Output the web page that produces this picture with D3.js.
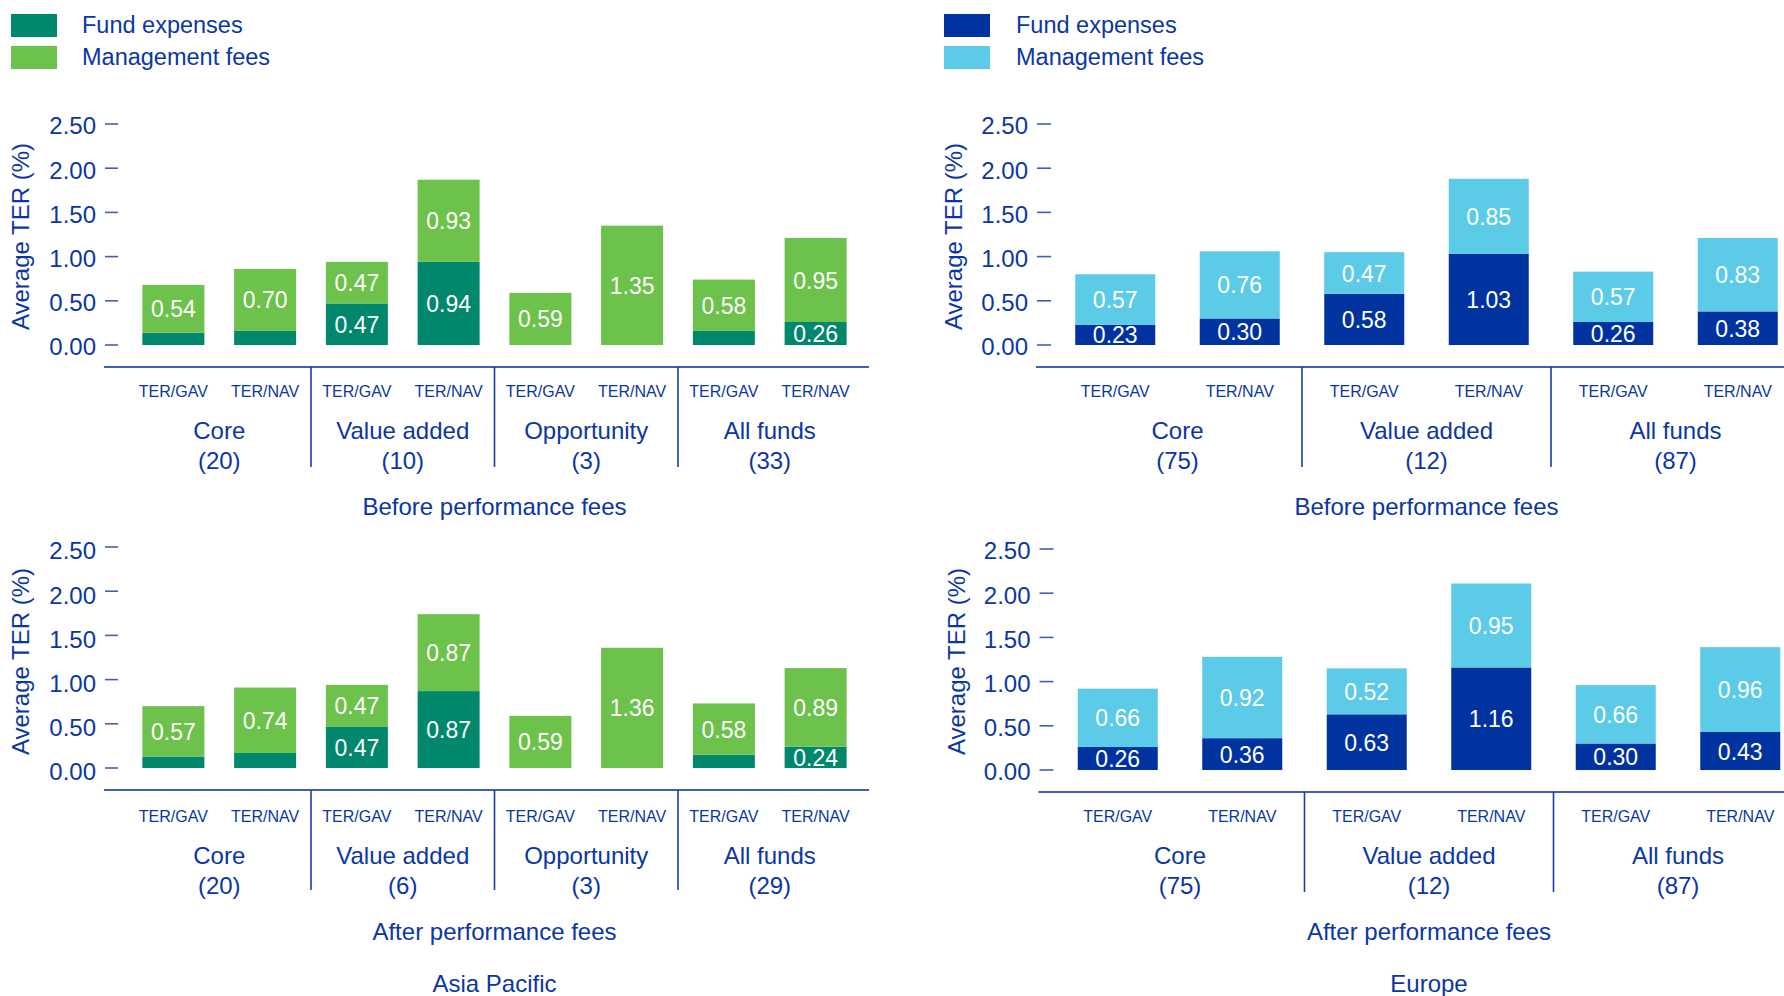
<!DOCTYPE html>
<html>
<head>
<meta charset="utf-8">
<script src="https://cdn.jsdelivr.net/npm/d3@7"></script>
<style>
  html, body { margin: 0; padding: 0; background: #ffffff; }
  svg { display: block; font-family: "Liberation Sans", Arial, sans-serif; }
</style>
</head>
<body>
<svg id="chart" width="1784" height="996"></svg>
<script>
// ---- Data -------------------------------------------------------------
const ratioLabels = ["TER/GAV", "TER/NAV"];
const seriesNames = ["Fund expenses", "Management fees"];
const yTicks = [0, 0.5, 1, 1.5, 2, 2.5];

// Asia Pacific
const apCategories = ["Core", "Value added", "Opportunity", "All funds"];
const apCountsBefore = [20, 10, 3, 33];
const apCountsAfter = [20, 6, 3, 29];
const apFundBefore = [0.14, 0.16, 0.47, 0.94, 0, 0, 0.16, 0.26];
const apMgmtBefore = [0.54, 0.70, 0.47, 0.93, 0.59, 1.35, 0.58, 0.95];
const apFundAfter = [0.13, 0.17, 0.47, 0.87, 0, 0, 0.15, 0.24];
const apMgmtAfter = [0.57, 0.74, 0.47, 0.87, 0.59, 1.36, 0.58, 0.89];

// Europe
const euCategories = ["Core", "Value added", "All funds"];
const euCountsBefore = [75, 12, 87];
const euCountsAfter = [75, 12, 87];
const euFundBefore = [0.23, 0.30, 0.58, 1.03, 0.26, 0.38];
const euMgmtBefore = [0.57, 0.76, 0.47, 0.85, 0.57, 0.83];
const euFundAfter = [0.26, 0.36, 0.63, 1.16, 0.30, 0.43];
const euMgmtAfter = [0.66, 0.92, 0.52, 0.95, 0.66, 0.96];

const panelTitles = ["Before performance fees", "After performance fees"];
const regionTitles = ["Asia Pacific", "Europe"];
const yAxisTitle = "Average TER (%)";

// ---- Styling ----------------------------------------------------------
const textBlue = "#0a37a3";
const axisBlue = "#3d5fbb";
const fmt = d3.format(".2f");

const svg = d3.select("#chart");

// Column layouts (top panel); lower panels are shifted by dx/dy.
const columns = [
  {
    categories: apCategories,
    colors: ["#00876c", "#6cc24a"],
    bandRange: [127.5, 861.5],
    axisX: [104, 869],
    tickX: [105, 118],
    tickLabelX: 96,
    yLabelX: 21,
    legendX: 11, legendTextX: 82,
    title: regionTitles[0],
    panels: [
      { fund: apFundBefore, mgmt: apMgmtBefore, counts: apCountsBefore, title: panelTitles[0], dx: 0, dy: 0, tdy: 0 },
      { fund: apFundAfter, mgmt: apMgmtAfter, counts: apCountsAfter, title: panelTitles[1], dx: 0, dy: 423, tdy: 2 }
    ]
  },
  {
    categories: euCategories,
    colors: ["#0033a0", "#5bcbe8"],
    bandRange: [1053, 1800],
    axisX: [1036, 1784],
    tickX: [1037, 1051],
    tickLabelX: 1028,
    yLabelX: 954,
    legendX: 944, legendTextX: 1016,
    title: regionTitles[1],
    panels: [
      { fund: euFundBefore, mgmt: euMgmtBefore, counts: euCountsBefore, title: panelTitles[0], dx: 0, dy: 0, tdy: 0 },
      { fund: euFundAfter, mgmt: euMgmtAfter, counts: euCountsAfter, title: panelTitles[1], dx: 2.5, dy: 425, tdy: 0 }
    ]
  }
];

columns.forEach(col => {
  // Legend
  const legend = svg.append("g");
  seriesNames.forEach((name, i) => {
    legend.append("rect")
      .attr("x", col.legendX).attr("y", 14 + i * 32)
      .attr("width", 46).attr("height", 23)
      .attr("fill", col.colors[i]);
    legend.append("text")
      .attr("x", col.legendTextX).attr("y", 24.5 + i * 32)
      .attr("dy", "0.35em")
      .attr("font-size", 23.5)
      .attr("fill", textBlue)
      .text(name);
  });

  // One bar per category x ratio
  const barKeys = [];
  col.categories.forEach(c => ratioLabels.forEach(r => barKeys.push(c + "|" + r)));

  const n = barKeys.length;
  const step = (col.bandRange[1] - col.bandRange[0]) / n;
  const barW = col.categories.length === 4 ? 62 : 80;
  const pad = 1 - barW / step;

  const x = d3.scaleBand()
    .domain(barKeys)
    .range(col.bandRange)
    .paddingInner(pad)
    .paddingOuter(pad / 2);

  col.panels.forEach((p, pi) => {
    const g = svg.append("g").attr("transform", `translate(${p.dx},${p.dy})`);
    const t = p.tdy; // extra offset for the text of this panel

    const y = d3.scaleLinear().domain([0, 2.5]).range([345, 124]);

    // Y ticks
    const yt = g.append("g");
    yt.selectAll("line").data(yTicks).join("line")
      .attr("x1", col.tickX[0]).attr("x2", col.tickX[1])
      .attr("y1", d => y(d)).attr("y2", d => y(d))
      .attr("stroke", axisBlue).attr("stroke-width", 1.6);
    yt.selectAll("text").data(yTicks).join("text")
      .attr("x", col.tickLabelX).attr("y", d => y(d) + 2 + t)
      .attr("dy", "0.35em")
      .attr("text-anchor", "end")
      .attr("font-size", 24)
      .attr("fill", textBlue)
      .text(d => fmt(d));

    // Y axis title
    g.append("text")
      .attr("transform", `translate(${col.yLabelX},${(y(0) + y(2.5)) / 2 + 2 + t}) rotate(-90)`)
      .attr("text-anchor", "middle")
      .attr("dy", "0.35em")
      .attr("font-size", 24)
      .attr("fill", textBlue)
      .text(yAxisTitle);

    // Stacked bars
    const rows = barKeys.map((k, i) => ({ key: k, fund: p.fund[i], mgmt: p.mgmt[i] }));
    const stack = d3.stack().keys(["fund", "mgmt"])(rows);

    stack.forEach((layer, li) => {
      const lg = g.append("g");
      lg.selectAll("rect").data(layer.filter(d => d[1] > d[0])).join("rect")
        .attr("x", d => x(d.data.key))
        .attr("width", x.bandwidth())
        .attr("y", d => y(d[1]))
        .attr("height", d => y(d[0]) - y(d[1]))
        .attr("fill", col.colors[li]);
      lg.selectAll("text").data(layer.filter(d => d[1] - d[0] >= 0.2)).join("text")
        .attr("x", d => x(d.data.key) + x.bandwidth() / 2)
        .attr("y", d => y((d[0] + d[1]) / 2) + 0.5)
        .attr("dy", "0.35em")
        .attr("text-anchor", "middle")
        .attr("font-size", 23)
        .attr("fill", "#ffffff")
        .text(d => fmt(d[1] - d[0]));
    });

    // Category axis
    const axisY = 367;
    g.append("line")
      .attr("x1", col.axisX[0]).attr("x2", col.axisX[1])
      .attr("y1", axisY).attr("y2", axisY)
      .attr("stroke", axisBlue).attr("stroke-width", 2);

    g.selectAll(".ratio").data(barKeys).join("text")
      .attr("class", "ratio")
      .attr("x", d => x(d) + x.bandwidth() / 2)
      .attr("y", 391 + t)
      .attr("dy", "0.35em")
      .attr("text-anchor", "middle")
      .attr("font-size", 16)
      .attr("fill", textBlue)
      .text(d => d.split("|")[1]);

    // Group separators and labels
    const groups = col.categories.map((c, i) => {
      const a = x(barKeys[2 * i]);
      const b = x(barKeys[2 * i + 1]) + x.bandwidth();
      return { name: c, count: p.counts[i], center: (a + b) / 2, right: b };
    });
    groups.slice(0, -1).forEach((gr, i) => {
      const sx = (gr.right + x(barKeys[2 * i + 2])) / 2;
      g.append("line")
        .attr("x1", sx).attr("x2", sx)
        .attr("y1", axisY).attr("y2", 467)
        .attr("stroke", "#1a3fa8").attr("stroke-width", 1.6);
    });
    groups.forEach(gr => {
      g.append("text")
        .attr("x", gr.center).attr("y", 431 + t)
        .attr("dy", "0.35em")
        .attr("text-anchor", "middle")
        .attr("font-size", 24)
        .attr("fill", textBlue)
        .text(gr.name);
      g.append("text")
        .attr("x", gr.center).attr("y", 461 + t)
        .attr("dy", "0.35em")
        .attr("text-anchor", "middle")
        .attr("font-size", 24)
        .attr("fill", textBlue)
        .text(`(${gr.count})`);
    });

    // Panel subtitle
    const mid = (col.bandRange[0] + col.bandRange[1]) / 2;
    g.append("text")
      .attr("x", mid).attr("y", 507 + t)
      .attr("dy", "0.35em")
      .attr("text-anchor", "middle")
      .attr("font-size", 24)
      .attr("fill", textBlue)
      .text(p.title);

    // Region title below the lower panel
    if (pi === 1) {
      g.append("text")
        .attr("x", mid).attr("y", 984 - p.dy)
        .attr("dy", "0.35em")
        .attr("text-anchor", "middle")
        .attr("font-size", 24)
        .attr("fill", textBlue)
        .text(col.title);
    }
  });
});
</script>
</body>
</html>
